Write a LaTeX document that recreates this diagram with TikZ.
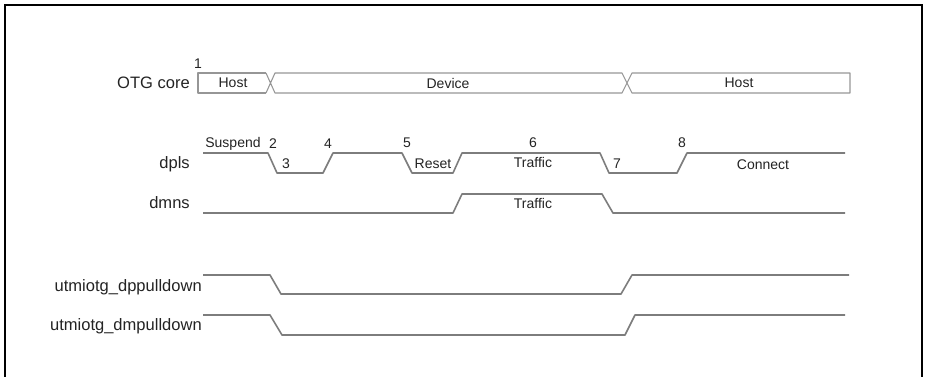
\documentclass[tikz,border=0pt]{standalone}
\usepackage{fontspec}
\setmainfont{Liberation Sans}
\usetikzlibrary{positioning}
\definecolor{wavegray}{RGB}{125,125,125}
\definecolor{busgray}{RGB}{150,150,150}
\definecolor{txtgray}{RGB}{35,35,35}
\tikzset{
    sigline/.style={line width=1.2pt, color=wavegray, line join=round},
    busline/.style={line width=0.8pt, color=busgray, line join=round},
    siglab/.style={anchor=east, font=\fontsize{12.4}{14}\selectfont, text=txtgray, inner sep=0pt},
    wavelab/.style={font=\fontsize{10.5}{12}\selectfont, text=txtgray, inner sep=0pt},
    framebox/.style={line width=1.2pt, color=black}
}

\begin{document}
\begin{tikzpicture}[x=0.75pt, y=-0.75pt]
    \useasboundingbox (0,0) rectangle (928,376);
    \draw[framebox] (5,380) -- (5,5) -- (922,5) -- (922,380);
    % signal names
    \node[siglab] (otg) at (190,83) {OTG core};
    \node[siglab] (dpls) at (190,164) {dpls};
    \node[siglab] (dmns) at (190,203) {dmns};
    \node[siglab] (dppd) at (202,287) {utmiotg\_dppulldown};
    \node[siglab] (dmpd) at (202,326) {utmiotg\_dmpulldown};
    % OTG core bus
    \draw[busline] (266,73) -- (198,73) -- (198,93) -- (266,93);
    \draw[busline] (266,73) -- (275,93) -- (622,93) -- (632,73) -- (850,73) -- (850,93) -- (632,93) -- (622,73) -- (275,73) -- (266,93);
    \node[wavelab] (host1) at (233,83) {Host};
    \node[wavelab] (dev) at (448,83) {Device};
    \node[wavelab] (host2) at (739,83) {Host};
    \node[wavelab] (n1) at (198,64) {1};
    % dpls
    \draw[sigline] (203,153) -- (268,153) -- (277,173) -- (323,173) -- (333,153) -- (402,153) -- (412,173) -- (453,173) -- (462,153) -- (600,153) -- (609,173) -- (677,173) -- (687,153) -- (845,153);
    \node[wavelab] (susp) at (233,144) {Suspend};
    \node[wavelab] (n2) at (273,144) {2};
    \node[wavelab] (n3) at (286,164) {3};
    \node[wavelab] (n4) at (328,144) {4};
    \node[wavelab] (n5) at (407,143) {5};
    \node[wavelab] (rst) at (433,164) {Reset};
    \node[wavelab] (n6) at (533,143) {6};
    \node[wavelab] (trafp) at (533,162) {Traffic};
    \node[wavelab] (n7) at (617,164) {7};
    \node[wavelab] (n8) at (682,143) {8};
    \node[wavelab] (conn) at (763,165) {Connect};
    % dmns
    \draw[sigline] (203,213) -- (453,213) -- (462,194) -- (602,194) -- (613,213) -- (845,213);
    \node[wavelab] (trafm) at (533,203) {Traffic};
    % pulldowns
    \draw[sigline] (203,275) -- (270,275) -- (281,294) -- (621,294) -- (632,275) -- (849,275);
    \draw[sigline] (203,315) -- (270,315) -- (282,335) -- (625,335) -- (635,315) -- (845,315);
\end{tikzpicture}
\end{document}
